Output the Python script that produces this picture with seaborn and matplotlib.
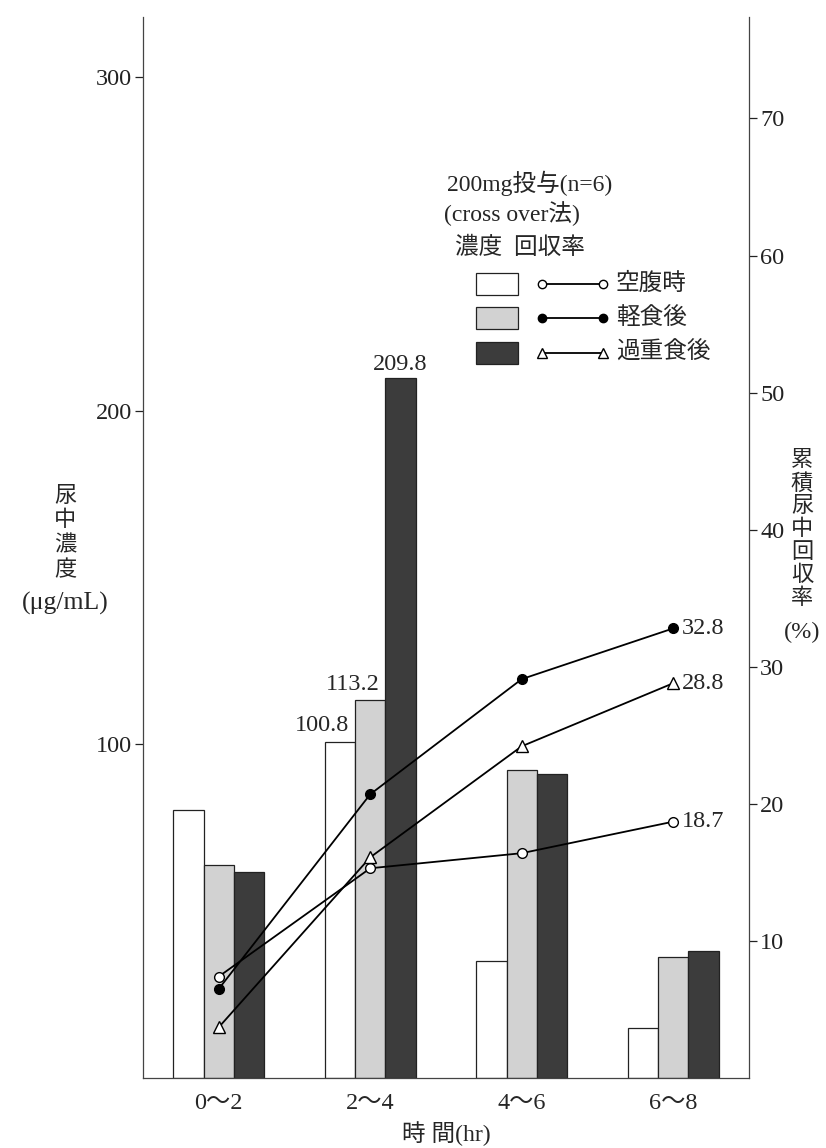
import matplotlib
matplotlib.use("Agg")
import matplotlib.pyplot as plt
from matplotlib.patches import Rectangle
from matplotlib.lines import Line2D
import seaborn as sns
import pandas as pd
import numpy as np

# ---------------- data ----------------
times = ["0〜2", "2〜4", "4〜6", "6〜8"]
conditions = ["空腹時", "軽食後", "過重食後"]
conc_fasted = [80.2, 100.8, 35.0, 15.0]
conc_light = [63.8, 113.2, 92.2, 36.2]
conc_heavy = [61.7, 209.8, 91.0, 38.0]
rec_fasted = [7.4, 15.3, 16.4, 18.7]
rec_light = [6.5, 20.7, 29.1, 32.8]
rec_heavy = [3.7, 16.1, 24.2, 28.8]
left_ticks = [100, 200, 300]
right_ticks = [10, 20, 30, 40, 50, 60, 70]
labelled_time = "2〜4"
legend_title = ["200mg投与(n=6)", "(cross over法)", "濃度  回収率"]
ylabel_left = ["尿", "中", "濃", "度", "(μg/mL)"]
ylabel_right = ["累", "積", "尿", "中", "回", "収", "率", "(%)"]
xlabel = "時 間(hr)"

# ---------------- style ----------------
sns.set_theme(style="white")
FAM = ["Liberation Serif", "Noto Sans CJK JP", "DejaVu Sans"]
plt.rcParams["font.family"] = FAM
plt.rcParams["axes.unicode_minus"] = False

NUM_FS = 17.5
CJK_FS = 17
VERT_FS = 16

bar_colors = {"空腹時": "#ffffff", "軽食後": "#d2d2d2", "過重食後": "#3c3c3c"}
line_styles = {
    "空腹時": dict(marker="o", markerfacecolor="white"),
    "軽食後": dict(marker="o", markerfacecolor="black"),
    "過重食後": dict(marker="^", markerfacecolor="white"),
}

W, H = 826, 1148
fig = plt.figure(figsize=(W / 100, H / 100), dpi=100)
fig.patch.set_facecolor("white")


def P(x, y):
    return (x / W, 1 - y / H)


ax = fig.add_axes([143 / W, 1 - 1078 / H, (749 - 143) / W, (1078 - 17) / H])

conc_df = pd.DataFrame({
    "time": times * 3,
    "cond": [conditions[0]] * 4 + [conditions[1]] * 4 + [conditions[2]] * 4,
    "conc": conc_fasted + conc_light + conc_heavy,
})
sns.barplot(data=conc_df, x="time", y="conc", hue="cond", order=times,
            hue_order=conditions, palette=bar_colors, saturation=1,
            width=0.6, edgecolor="#222222", linewidth=0.9, ax=ax,
            legend=False, errorbar=None)
ax.set_xlim(-0.5, 3.5)
ax.set_ylim(0, 318)
ax.set_yticks(left_ticks)
ax.set_yticklabels([str(t) for t in left_ticks], fontsize=NUM_FS, family=FAM)
ax.set_xticks(range(len(times)))
ax.set_xticklabels(times, fontsize=NUM_FS, family=FAM)
ax.tick_params(axis="x", length=0, pad=11)
ax.tick_params(axis="y", direction="out", length=6, width=0.9, pad=2, left=True, colors="#222222")
ax.set_xlabel("")
ax.set_ylabel("")
for s in ["top", "right"]:
    ax.spines[s].set_visible(False)
for s in ["left", "bottom"]:
    ax.spines[s].set_color("#444444")
    ax.spines[s].set_linewidth(0.9)

# bar value labels for 2~4
ti = times.index(labelled_time)
bar_w = 0.6 / 3
offsets = [-bar_w, 0, bar_w]
vals = [conc_fasted[ti], conc_light[ti], conc_heavy[ti]]
for k, (off, v) in enumerate(zip(offsets, vals)):
    if k < 2:
        ax.annotate(f"{v:.1f}", xy=(ti + off + bar_w / 2, v), xytext=(-4, 4),
                    textcoords="offset points", ha="right", va="bottom",
                    fontsize=NUM_FS, family=FAM)
    else:
        ax.annotate(f"{v:.1f}", xy=(ti + off, v), xytext=(0, 2),
                    textcoords="offset points", ha="center", va="bottom",
                    fontsize=NUM_FS, family=FAM)

# recovery lines on the right axis
ax2 = ax.twinx()
xpos = np.arange(len(times))
for cond, rec in zip(conditions, [rec_fasted, rec_light, rec_heavy]):
    st = line_styles[cond]
    sns.lineplot(x=xpos, y=rec, ax=ax2, color="black", linewidth=1.3,
                 marker=st["marker"], markerfacecolor=st["markerfacecolor"],
                 markeredgecolor="black", markeredgewidth=1.0,
                 markersize=7 if st["marker"] == "o" else 8)
    ax2.annotate(f"{rec[-1]:.1f}", xy=(xpos[-1], rec[-1]), xytext=(6, 0),
                 textcoords="offset points", ha="left", va="center",
                 fontsize=NUM_FS, family=FAM)
ax2.set_xlim(-0.5, 3.5)
ax2.set_ylim(0, 77.4)
ax2.set_yticks(right_ticks)
ax2.set_yticklabels([str(t) for t in right_ticks], fontsize=NUM_FS, family=FAM)
ax2.tick_params(axis="y", direction="out", length=6, width=0.9, pad=2, right=True, colors="#222222")
for s in ["top", "left", "bottom"]:
    ax2.spines[s].set_visible(False)
ax2.spines["right"].set_color("#444444")
ax2.spines["right"].set_linewidth(0.9)
ax2.set_ylabel("")

# x axis label
fig.text(*P(446, 1134), xlabel, ha="center", va="center", fontsize=CJK_FS, family=FAM)

# vertical y labels
for ch, y in zip(ylabel_left, [497, 521, 546, 571, 603]):
    fs = 18.5 if ch.startswith("(") else VERT_FS
    fig.text(*P(65, y), ch, ha="center", va="center", fontsize=fs, family=FAM)
for ch, y in zip(ylabel_right, [461, 484, 507, 530, 553, 576, 599, 632]):
    fs = 17.5 if ch.startswith("(") else VERT_FS
    fig.text(*P(802, y), ch, ha="center", va="center", fontsize=fs, family=FAM)

# legend drawn as a text block
for txt, (x, y) in zip(legend_title, [(447, 183), (444, 214), (455, 248)]):
    fig.text(*P(x, y), txt, ha="left", va="center", fontsize=CJK_FS, family=FAM)
rows_y = [284, 318, 353]
for cond, y in zip(conditions, rows_y):
    x0, y0 = P(476, y + 11)
    x1, y1 = P(518, y - 11)
    fig.add_artist(Rectangle((x0, y0), x1 - x0, y1 - y0, transform=fig.transFigure,
                             facecolor=bar_colors[cond], edgecolor="#222222", linewidth=0.9))
    lx0, ly = P(542, y)
    lx1, _ = P(603, y)
    st = line_styles[cond]
    fig.add_artist(Line2D([lx0, lx1], [ly, ly], transform=fig.transFigure, color="black",
                          linewidth=1.3, marker=st["marker"],
                          markerfacecolor=st["markerfacecolor"], markeredgecolor="black",
                          markersize=6 if st["marker"] == "o" else 7))
    fig.text(*P(616, y), cond, ha="left", va="center", fontsize=CJK_FS, family=FAM)

fig.savefig("out.png", dpi=100, facecolor="white")
